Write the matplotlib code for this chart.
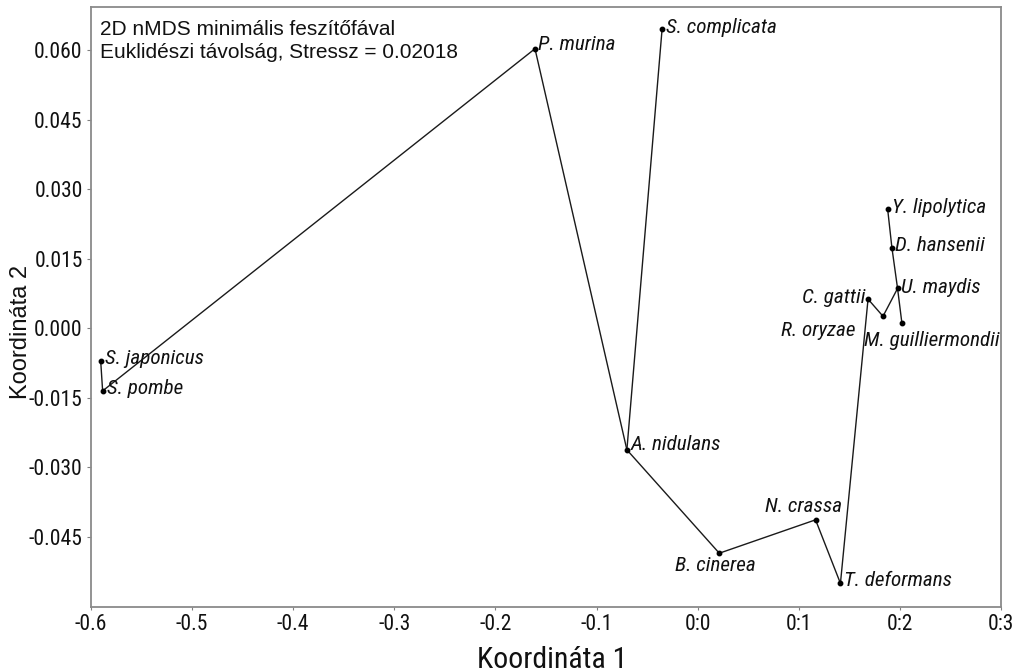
import matplotlib
matplotlib.use("Agg")
import matplotlib.pyplot as plt
from matplotlib import font_manager

# nMDS coordinates of the species
species = ["S. japonicus", "S. pombe", "P. murina", "S. complicata", "A. nidulans",
           "B. cinerea", "N. crassa", "T. deformans", "Y. lipolytica", "D. hansenii",
           "U. maydis", "C. gattii", "R. oryzae", "M. guilliermondii"]
coord1 = [-0.5904, -0.5885, -0.1609, -0.0352, -0.0700,
          0.0214, 0.1166, 0.1412, 0.1879, 0.1921,
          0.1977, 0.1685, 0.1833, 0.2020]
coord2 = [-0.0071, -0.0135, 0.0603, 0.0645, -0.0262,
          -0.0485, -0.0413, -0.0550, 0.0257, 0.0174,
          0.0086, 0.0063, 0.0026, 0.0011]

# minimum spanning tree edges (index pairs)
mst_edges = [(0, 1), (1, 2), (2, 4), (3, 4), (4, 5), (5, 6), (6, 7),
             (7, 11), (11, 12), (12, 10), (8, 9), (9, 10), (10, 13)]

xtick_values = [-0.6, -0.5, -0.4, -0.3, -0.2, -0.1, 0.0, 0.1, 0.2, 0.3]
xtick_labels = ["-0.6", "-0.5", "-0.4", "-0.3", "-0.2", "-0.1", "0:0", "0:1", "0:2", "0:3"]
ytick_values = [0.060, 0.045, 0.030, 0.015, 0.000, -0.015, -0.030, -0.045]
ytick_labels = ["0.060", "0.045", "0.030", "0.015", "0.000", "-0.015", "-0.030", "-0.045"]

title_lines = ["2D nMDS minimális feszítőfával",
               "Euklidészi távolság, Stressz = 0.02018"]

# label placement: (dx, dy) in pixels, horizontal alignment
label_pos = {
    "S. japonicus": (4, 3, "left"),
    "S. pombe": (4, 2, "left"),
    "P. murina": (3, 4, "left"),
    "S. complicata": (4, 2, "left"),
    "A. nidulans": (4, 5, "left"),
    "B. cinerea": (-4, -12, "center"),
    "N. crassa": (-12, 13, "center"),
    "T. deformans": (4, 3, "left"),
    "Y. lipolytica": (4, 2, "left"),
    "D. hansenii": (3, 2, "left"),
    "U. maydis": (3, 1, "left"),
    "C. gattii": (-3, 2, "right"),
    "R. oryzae": (-28, -14, "right"),
    "M. guilliermondii": (-38, -17, "left"),
}

available = {f.name for f in font_manager.fontManager.ttflist}
narrow = "Liberation Sans"
for cand in ("Liberation Sans Narrow", "Arial Narrow", "Roboto Condensed",
             "Archivo Narrow", "Fira Sans Condensed"):
    if cand in available:
        narrow = cand
        break
regular = "Liberation Sans"

fig = plt.figure(figsize=(10.21, 6.72), dpi=100)
ax = fig.add_axes([91 / 1021, 65 / 672, 910 / 1021, 600 / 672])

for a, b in mst_edges:
    ax.plot([coord1[a], coord1[b]], [coord2[a], coord2[b]], color="#1a1a1a", lw=1.0,
            solid_capstyle="round", zorder=2)
ax.plot(coord1, coord2, "o", color="black", markersize=3.2, zorder=3)

for name, x, y in zip(species, coord1, coord2):
    dx, dy, ha = label_pos[name]
    ax.annotate(name, (x, y), xytext=(dx, dy), textcoords="offset pixels",
                ha=ha, va="center", fontsize=15.2, family=narrow,
                style="italic", color="#111111", annotation_clip=False)

ax.set_xlim(-0.6, 0.297)
ax.set_ylim(-0.0601, 0.0693)

ax.set_xticks(xtick_values)
ax.set_xticklabels(xtick_labels, family=narrow, fontsize=15.5)
ax.set_yticks(ytick_values)
ax.set_yticklabels(ytick_labels, family=narrow, fontsize=15.5)
ax.tick_params(axis="x", length=2, width=0.8, color="#808080", pad=3, labelcolor="#111111")
ax.tick_params(axis="y", length=3, width=0.8, color="#808080", pad=3, labelcolor="#111111")

for sp in ax.spines.values():
    sp.set_color("#8a8a8a")
    sp.set_linewidth(1.3)

ax.text(9 / 910, 1 - 28 / 600, title_lines[0], transform=ax.transAxes,
        family=regular, fontsize=15, color="#111111", va="baseline", ha="left")
ax.text(9 / 910, 1 - 51 / 600, title_lines[1], transform=ax.transAxes,
        family=regular, fontsize=15, color="#111111", va="baseline", ha="left")

fig.text(552 / 1021, 1 - 668 / 672, "Koordináta 1", family=narrow,
         fontsize=21.5, ha="center", va="baseline", color="#111111")
fig.text(21 / 1021, 1 - 332 / 672, "Koordináta 2", family=regular, fontsize=17,
         rotation=90, ha="center", va="center", color="#111111")

fig.savefig("out.png", dpi=100)
